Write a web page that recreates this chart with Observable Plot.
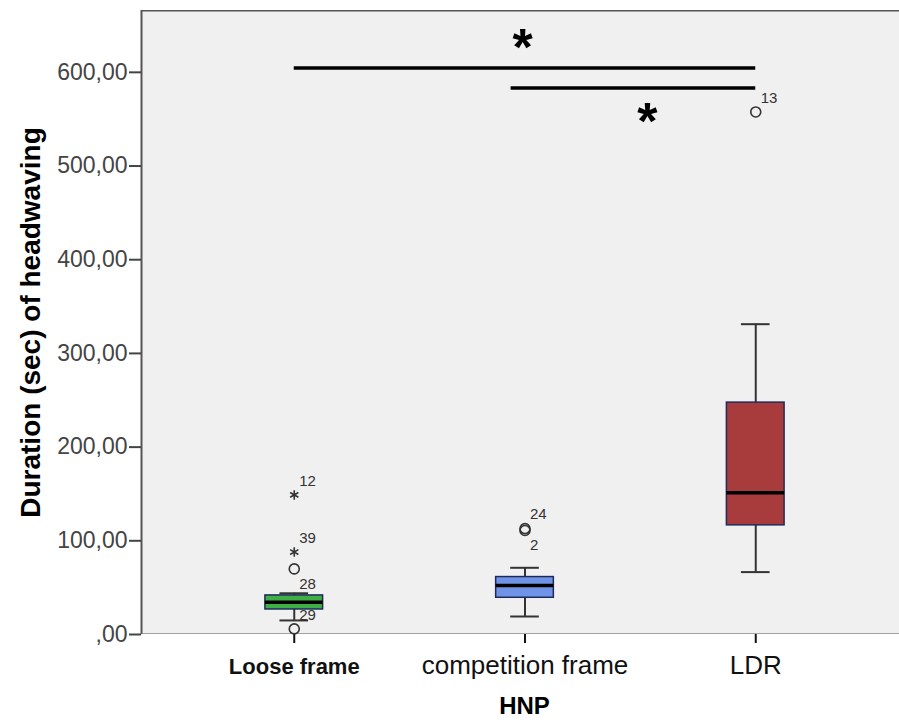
<!DOCTYPE html>
<html>
<head>
<meta charset="utf-8">
<script src="https://cdn.jsdelivr.net/npm/d3@7"></script>
<script src="https://cdn.jsdelivr.net/npm/@observablehq/plot@0.6"></script>
<style>
  html, body { margin: 0; padding: 0; background: #fff; overflow: hidden; }
</style>
</head>
<body>
<div id="chart"></div>
<script>
// ---- data ----
const categories = ["Loose frame", "competition frame", "LDR"];
const q1 = [26.7, 39.2, 116.5];
const median = [34.5, 52.4, 151.4];
const q3 = [41.7, 61.3, 247.5];
const whiskerLow = [15, 19.2, 66.6];
const whiskerHigh = [44, 71.2, 331.2];
const boxColors = ["#3fae45", "#6f93e6", "#a83b3b"];

const outlierGroup = [0, 0, 0, 0, 1, 1, 2];
const outlierValue = [6, 70, 88, 149, 111, 113, 557.7];
const outlierLabel = ["29", "28", "39", "12", "2", "24", "13"];
const outlierKind = ["circle", "circle", "extreme", "extreme", "circle", "circle", "circle"];
const labelsBelow = ["28", "2"];

const yTicks = [0, 100, 200, 300, 400, 500, 600];
const yTitle = "Duration (sec) of headwaving";
const xTitle = "HNP";

const sigFrom = [0, 0.94];
const sigTo = [2, 2];
const sigLevel = [604.7, 583.3];
const sigStarX = [0.99, 1.53];
const sigStarY = [638, 559];

// ---- build tables ----
const boxes = categories.map((c, i) => ({
  i, q1: q1[i], med: median[i], q3: q3[i], lo: whiskerLow[i], hi: whiskerHigh[i], color: boxColors[i]
}));
const outliers = outlierValue.map((v, k) => ({
  i: outlierGroup[k], v, label: outlierLabel[k], kind: outlierKind[k],
  below: labelsBelow.includes(outlierLabel[k])
}));
const sig = sigFrom.map((f, k) => ({from: f, to: sigTo[k], y: sigLevel[k]}));
const stars = sigStarX.map((x, k) => ({x, y: sigStarY[k]}));

const X0 = -0.662, X1 = 2.662, YMAX = 666;
const half = 0.125, capHalf = 0.062;
const font = "'Liberation Sans', Arial, sans-serif";

const chart = Plot.plot({
  width: 899,
  height: 722,
  marginLeft: 141,
  marginTop: 10,
  marginBottom: 88,
  marginRight: 0,
  style: {fontFamily: font, background: "#fff", overflow: "hidden"},
  x: {type: "linear", domain: [X0, X1], range: [141, 908]},
  y: {domain: [0, YMAX]},
  marks: [
    // panel background
    Plot.rect([0], {x1: () => X0, x2: () => X1, y1: () => 0, y2: () => YMAX, fill: "#f0f0f0", clip: true}),
    // frame lines
    Plot.ruleX([X0], {y1: 0, y2: YMAX, stroke: "#555", strokeWidth: 2}),
    Plot.ruleY([YMAX], {x1: X0, x2: X1, stroke: "#555", strokeWidth: 2, clip: true}),
    // axes
    Plot.axisY({
      ticks: yTicks, tickFormat: d => (d === 0 ? "" : d) + ",00",
      tickSize: 12, tickPadding: 2, fontSize: 23, color: "#444", strokeWidth: 2, label: null
    }),
    Plot.axisX({
      ticks: [0], tickFormat: i => categories[i], fontSize: 22, fontWeight: "bold",
      tickSize: 9, tickPadding: 15, color: "#111", strokeWidth: 2, label: null
    }),
    Plot.axisX({
      ticks: [1, 2], tickFormat: i => categories[i], fontSize: 26,
      tickSize: 9, tickPadding: 12, color: "#111", strokeWidth: 2, label: null
    }),
    Plot.ruleY([0], {x1: X0, x2: X1, stroke: "#555", strokeWidth: 2, clip: true}),
    // whiskers
    Plot.ruleX(boxes, {x: "i", y1: "q3", y2: "hi", stroke: "#333", strokeWidth: 2}),
    Plot.ruleX(boxes, {x: "i", y1: "lo", y2: "q1", stroke: "#333", strokeWidth: 2}),
    Plot.ruleY(boxes, {y: "hi", x1: d => d.i - capHalf, x2: d => d.i + capHalf, stroke: "#333", strokeWidth: 2}),
    Plot.ruleY(boxes, {y: "lo", x1: d => d.i - capHalf, x2: d => d.i + capHalf, stroke: "#333", strokeWidth: 2}),
    // boxes
    Plot.rect(boxes, {x1: d => d.i - half, x2: d => d.i + half, y1: "q1", y2: "q3", fill: d => d.color, stroke: "#1f2a5a", strokeWidth: 1.5}),
    Plot.ruleY(boxes, {y: "med", x1: d => d.i - half, x2: d => d.i + half, stroke: "#000", strokeWidth: 3.5}),
    // outliers
    Plot.dot(outliers.filter(d => d.kind === "circle"), {x: "i", y: "v", r: 5, stroke: "#333", strokeWidth: 1.6, fill: "none"}),
    Plot.dot(outliers.filter(d => d.kind === "extreme"), {x: "i", y: "v", symbol: "asterisk", r: 4.5, stroke: "#333", strokeWidth: 1.6}),
    Plot.text(outliers.filter(d => !d.below), {x: "i", y: "v", text: "label", dx: 5, dy: -14, textAnchor: "start", fontSize: 15, fill: "#333"}),
    Plot.text(outliers.filter(d => d.below), {x: "i", y: "v", text: "label", dx: 5, dy: 15, textAnchor: "start", fontSize: 15, fill: "#333"}),
    // significance bars
    Plot.ruleY(sig, {y: "y", x1: "from", x2: "to", stroke: "#000", strokeWidth: 3.5}),
    Plot.text(stars, {x: "x", y: "y", text: () => "*", fontSize: 52, fontWeight: "bold", fill: "#000", dy: 12}),
    // titles
    Plot.text([yTitle], {frameAnchor: "left", dx: -110, rotate: -90, textAnchor: "middle", lineAnchor: "middle", fontSize: 28, fontWeight: "bold", fill: "#000"}),
    Plot.text([xTitle], {frameAnchor: "bottom", dx: 4, dy: 72, textAnchor: "middle", lineAnchor: "middle", fontSize: 24, fontWeight: "bold", fill: "#000"})
  ]
});
document.getElementById("chart").appendChild(chart);
</script>
</body>
</html>
